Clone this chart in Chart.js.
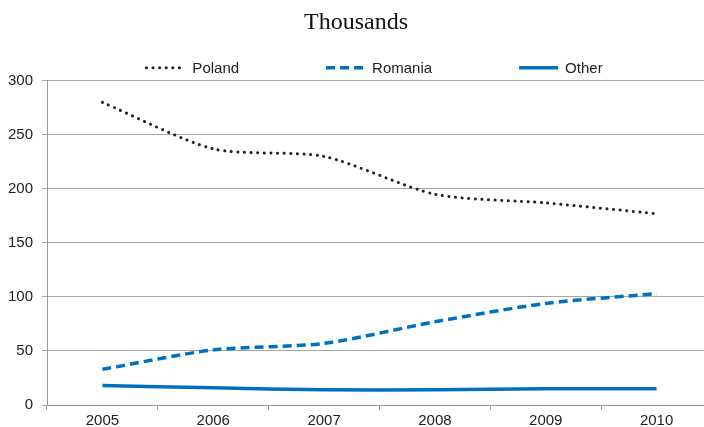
<!DOCTYPE html>
<html lang="en">
<head>
  <meta charset="UTF-8">
  <title>Thousands</title>
  <script src="https://cdn.jsdelivr.net/npm/chart.js"></script>
</head>
<style>
  html, body {
      margin: 0;
      padding: 0;
      background: #fff;
      overflow: hidden;
  }

  .wrap {
      width: 704px;
      height: 427px;
      overflow: hidden;
  }
</style>

<body>
  <div class="wrap">
    <canvas id="grafico" width="712" height="427"></canvas>
  </div>

<script>

  const anos = ['2005', '2006', '2007', '2008', '2009', '2010'];
  const poland = [280, 237, 230, 195, 187, 177];
  const romania = [33, 51, 57, 77, 94, 103];
  const other = [18, 16, 14, 14, 15, 15];
  const yTicks = [0, 50, 100, 150, 200, 250, 300];

  const azul = '#0070c0';
  const fonte = 'Liberation Sans, Arial, sans-serif';

  // legend drawn by hand: line sample + label, centered over the plot
  const legendaLinha = {
    id: 'legendaLinha',
    afterDraw(chart) {
      const ctx = chart.ctx;
      const area = chart.chartArea;
      const y = area.top - 13;
      const amostra = 39;
      const espaco = 7;
      const entre = 87;
      ctx.save();
      ctx.font = '15px ' + fonte;
      const itens = chart.data.datasets.map(ds => ({ ds, w: ctx.measureText(ds.label).width }));
      let total = 0;
      itens.forEach((it, i) => { total += amostra + espaco + it.w + (i ? entre : 0); });
      let x = (area.left + area.right) / 2 - total / 2 - 5;
      itens.forEach(it => {
        const ds = it.ds;
        ctx.beginPath();
        ctx.strokeStyle = ds.borderColor;
        ctx.lineWidth = ds.borderWidth;
        ctx.lineCap = ds.borderCapStyle || 'butt';
        ctx.setLineDash(ds.borderDash || []);
        ctx.moveTo(x, y);
        ctx.lineTo(x + amostra, y);
        ctx.stroke();
        ctx.setLineDash([]);
        ctx.fillStyle = '#222';
        ctx.textBaseline = 'middle';
        ctx.fillText(ds.label, x + amostra + espaco, y + 1);
        x += amostra + espaco + it.w + entre;
      });
      ctx.restore();
    }
  };

  const ctx = document.getElementById('grafico').getContext('2d');

  new Chart(ctx, {
    type: 'line',
    data: {
      labels: anos,
      datasets: [{
        label: 'Poland',
        data: poland,
        borderColor: '#222',
        borderWidth: 3,
        borderDash: [0.1, 6.5],
        borderCapStyle: 'round',
        tension: 0.25,
        pointRadius: 0,
        fill: false
      }, {
        label: 'Romania',
        data: romania,
        borderColor: azul,
        borderWidth: 3.5,
        borderDash: [9, 5],
        tension: 0.25,
        pointRadius: 0,
        fill: false
      }, {
        label: 'Other',
        data: other,
        borderColor: azul,
        borderWidth: 3.5,
        tension: 0.25,
        pointRadius: 0,
        fill: false
      }]
    },
    options: {
      responsive: false,
      animation: false,
      layout: {
        padding: { left: 0, right: 0, top: 0, bottom: 0 }
      },
      plugins: {
        legend: { display: false },
        tooltip: { enabled: false },
        title: {
          display: true,
          text: 'Thousands',
          color: '#111',
          font: { family: 'Liberation Serif, Times New Roman, serif', size: 24, weight: 'normal' },
          padding: { top: 8, bottom: 44 }
        }
      },
      scales: {
        x: {
          offset: true,
          grid: {
            offset: true,
            drawOnChartArea: false,
            drawTicks: true,
            tickLength: 5,
            color: '#999'
          },
          border: { color: '#999', width: 1 },
          ticks: {
            color: '#222',
            font: { family: fonte, size: 15 },
            padding: 2
          },
          afterFit: s => { s.height = 22; }
        },
        y: {
          min: 0,
          max: 300,
          afterBuildTicks: s => { s.ticks = yTicks.map(v => ({ value: v })); },
          grid: {
            color: '#a6a6a6',
            tickLength: 5,
            lineWidth: 1
          },
          border: { color: '#999', width: 1 },
          ticks: {
            color: '#222',
            font: { family: fonte, size: 15 },
            padding: 9
          },
          afterFit: s => { s.width = 47; }
        }
      }
    },
    plugins: [legendaLinha]
  });

</script>
</body>
</html>
